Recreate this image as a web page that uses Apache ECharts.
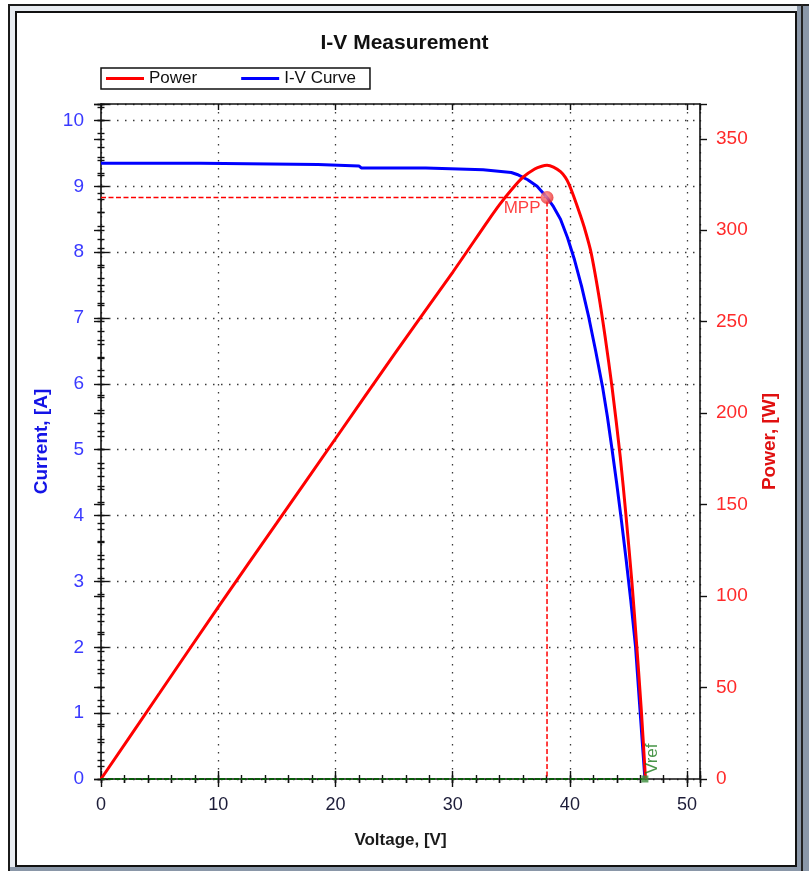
<!DOCTYPE html>
<html>
<head>
<meta charset="utf-8">
<script src="https://cdn.jsdelivr.net/npm/echarts@6/dist/echarts.min.js"></script>
<style>
html,body{margin:0;padding:0;width:809px;height:871px;overflow:hidden;background:#fff;}
#f1{position:absolute;left:8px;top:4px;width:820px;height:890px;border-left:2px solid #1b1b1b;border-top:2px solid #1b1b1b;background:#8a97a8;}
#f2{position:absolute;left:10px;top:6px;width:787px;height:861px;background:#e8ecf1;}
#f3{position:absolute;left:15px;top:11px;width:782px;height:856px;box-sizing:border-box;border:2px solid #111;background:#fff;}
#f4{position:absolute;left:801px;top:4px;width:1.5px;height:880px;background:#222;}
#chart{position:absolute;left:0;top:0;width:809px;height:871px;}
</style>
</head>
<body>
<div id="f1"></div><div id="f2"></div><div id="f3"></div><div id="f4"></div>
<div id="chart"></div>
<script>
// ---- data ----
const ivVoltage = [0, 8.5, 8.6, 18.5, 18.6, 22, 22.2, 27.7, 27.8, 32.6, 32.7, 35.0, 35.5, 36.4, 37.2, 38.05, 38.6, 39.2, 39.8, 40.4, 41.0, 41.6, 42.2, 42.8, 43.2, 43.6, 44.0, 44.4, 44.8, 45.2, 45.6, 46.0, 46.4];
const ivCurrent = [9.35, 9.35, 9.33, 9.33, 9.31, 9.31, 9.28, 9.28, 9.25, 9.25, 9.22, 9.21, 9.18, 9.10, 9.00, 8.83, 8.69, 8.50, 8.22, 7.88, 7.48, 7.02, 6.50, 5.94, 5.50, 5.00, 4.48, 3.92, 3.33, 2.70, 2.01, 1.00, 0];
const powerVoltage = [0, 5, 10, 15, 20, 25, 30, 33, 34, 35, 36, 37, 37.6, 38.05, 38.6, 39.2, 39.6, 39.9, 40.3, 40.9, 41.3, 41.8, 42.45, 43.0, 43.6, 44.3, 44.8, 45.3, 45.7, 46.1, 46.45];
const powerWatts   = [0, 47, 94, 140, 186, 232, 277, 305, 314, 322, 329, 333.5, 335, 335.5, 334.5, 332, 329, 325.5, 319, 308, 300, 288, 265, 242, 214, 176, 143, 107, 73, 37, 0];
const mppPoint  = [38.05, 8.83];   // voltage, current
const vrefPoint = [46.4, 0];
const xTickLabels = [0, 10, 20, 30, 40, 50];
const currentTickLabels = [0, 1, 2, 3, 4, 5, 6, 7, 8, 9, 10];
const powerTickLabels = [0, 50, 100, 150, 200, 250, 300, 350];

const X_MAX = 51.1, I_MAX = 10.25, P_MAX = 369;
const FONT = "'Liberation Sans', Arial, sans-serif";
const showIf = (list) => (v) => (list.indexOf(Math.round(v * 1000) / 1000) >= 0 ? String(v) : '');

const dotted = { color: '#3a3a3a', width: 1.3, type: [1.5, 6.5] };

function tickAxis(position, min, max, interval, inside, len, extra) {
  return Object.assign({
    type: 'value', position: position, min: min, max: max, interval: interval,
    axisLine: { show: false }, axisLabel: { show: false }, splitLine: { show: false },
    axisTick: { show: true, inside: inside, length: len, lineStyle: { color: '#111', width: 1.4 } },
    axisPointer: { show: false }, silent: true
  }, extra || {});
}

const xAxes = [
  tickAxis('bottom', 0, X_MAX, 10, false, 8, {
    axisLine: { show: true, onZero: false, lineStyle: { color: '#111', width: 1.6 } },
    axisLabel: { show: true, formatter: showIf(xTickLabels), color: '#1c1c38', fontSize: 18, fontFamily: FONT, margin: 17 },
    splitLine: { show: true, lineStyle: dotted },
    name: 'Voltage, [V]', nameLocation: 'middle', nameGap: 53,
    nameTextStyle: { fontSize: 17, fontWeight: 'bold', color: '#1a1a1a', fontFamily: FONT }
  }),
  tickAxis('bottom', 0, X_MAX, 10, true, 8),
  tickAxis('bottom', 0, X_MAX, 2, false, 4),
  tickAxis('bottom', 0, X_MAX, 2, true, 4),
  tickAxis('top', 0, X_MAX, 10, true, 6, { axisLine: { show: true, onZero: false, lineStyle: { color: '#111', width: 1.6 } } }),
  tickAxis('top', 0, X_MAX, 2, true, 4)
];

const yAxes = [
  tickAxis('left', 0, I_MAX, 1, false, 7, {
    axisLine: { show: true, onZero: false, lineStyle: { color: '#111', width: 1.6 } },
    axisLabel: { show: true, formatter: showIf(currentTickLabels), color: '#3a3aff', fontSize: 19, fontFamily: FONT, margin: 17 },
    splitLine: { show: true, lineStyle: dotted },
    name: 'Current, [A]', nameLocation: 'middle', nameGap: 50, nameRotate: 90,
    nameTextStyle: { fontSize: 19, fontWeight: 'bold', color: '#1414e6', fontFamily: FONT }
  }),
  tickAxis('right', 0, P_MAX, 50, false, 7, {
    axisLine: { show: true, onZero: false, lineStyle: { color: '#111', width: 1.6 } },
    axisLabel: { show: true, formatter: showIf(powerTickLabels), color: '#ff2a2a', fontSize: 19, fontFamily: FONT, margin: 16 },
    name: 'Power, [W]', nameLocation: 'middle', nameGap: 60, nameRotate: 90,
    nameTextStyle: { fontSize: 19, fontWeight: 'bold', color: '#e01010', fontFamily: FONT }
  }),
  tickAxis('left', 0, I_MAX, 1, true, 8),
  tickAxis('left', 0, I_MAX, 0.2, false, 3.5),
  tickAxis('left', 0, I_MAX, 0.2, true, 3.5),
  tickAxis('right', 0, P_MAX, 50, true, 7),
  tickAxis('right', 0, P_MAX, 10, false, 3.5),
  tickAxis('right', 0, P_MAX, 10, true, 3.5)
];

const zip = (a, b) => a.map((v, i) => [v, b[i]]);

const option = {
  animation: false,
  backgroundColor: 'transparent',
  title: {
    text: 'I-V Measurement', left: 'center', top: 28,
    textStyle: { fontSize: 21, fontWeight: 'bold', color: '#111', fontFamily: FONT }
  },
  legend: {
    left: 101, top: 68, orient: 'horizontal', selectedMode: false,
    data: [{ name: 'Power', icon: 'rect' }, { name: 'I-V Curve', icon: 'rect' }],
    itemWidth: 38, itemHeight: 3, itemGap: 44,
    borderColor: '#111', borderWidth: 1.5, borderRadius: 0,
    padding: [2, 14, 2, 5],
    textStyle: { fontSize: 17, color: '#111', fontFamily: FONT }
  },
  grid: { left: 101, right: 109, top: 104, bottom: 92, containLabel: false, outerBoundsMode: 'none' },
  xAxis: xAxes,
  yAxis: yAxes,
  series: [
    {
      type: 'line', name: 'mpp-guides', yAxisIndex: 0, silent: true, symbol: 'none', z: 2,
      data: [[0, mppPoint[1]], [mppPoint[0], mppPoint[1]], [mppPoint[0], 0]],
      lineStyle: { color: '#ff0000', width: 1.5, type: [5, 2.5] }
    },
    {
      type: 'line', name: 'I-V Curve', yAxisIndex: 0, symbol: 'none', z: 3,
      data: zip(ivVoltage, ivCurrent),
      lineStyle: { color: '#0000ff', width: 3 }, itemStyle: { color: '#0000ff' }
    },
    {
      type: 'line', name: 'Power', yAxisIndex: 1, symbol: 'none', z: 4, smooth: 0.25,
      data: zip(powerVoltage, powerWatts),
      lineStyle: { color: '#ff0000', width: 3 }, itemStyle: { color: '#ff0000' }
    },
    {
      type: 'line', name: 'vref-line', yAxisIndex: 0, silent: true, symbol: 'none', z: 5,
      data: [[0, 0], vrefPoint],
      lineStyle: { color: '#0a5a0a', width: 2, type: [5, 2] }
    },
    {
      type: 'scatter', name: 'MPP', yAxisIndex: 0, z: 6, symbol: 'circle', symbolSize: 13,
      data: [mppPoint],
      itemStyle: {
        color: { type: 'radial', x: 0.4, y: 0.4, r: 0.6,
          colorStops: [{ offset: 0, color: '#ff9a9a' }, { offset: 1, color: '#ea2424' }] }
      },
      label: { show: true, formatter: 'MPP', position: 'left', distance: 0, offset: [0, 11],
        color: '#ff1010', fontSize: 17, fontFamily: FONT }
    },
    {
      type: 'scatter', name: 'Vref', yAxisIndex: 0, z: 6, symbol: 'rect', symbolSize: 7,
      data: [vrefPoint],
      itemStyle: { color: '#3d8f3d' },
      label: { show: true, formatter: 'Vref', position: 'right', distance: 6, rotate: 90,
        align: 'left', verticalAlign: 'middle', offset: [5, -2],
        color: '#1a7a1a', fontSize: 17, fontFamily: FONT }
    }
  ]
};

const chart = echarts.init(document.getElementById('chart'), null, { renderer: 'canvas' });
chart.setOption(option);
</script>
</body>
</html>
